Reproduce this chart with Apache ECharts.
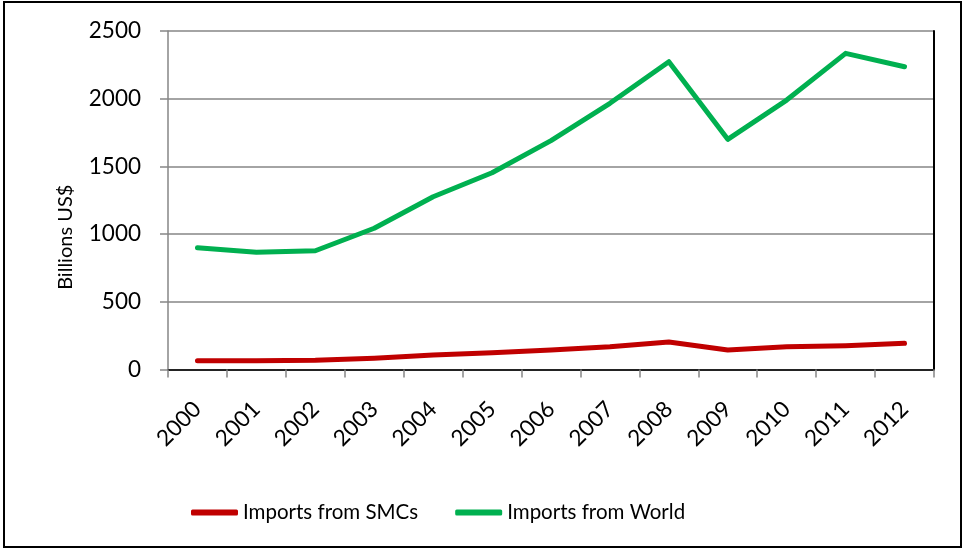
<!DOCTYPE html>
<html>
<head>
<meta charset="utf-8">
<script src="https://cdn.jsdelivr.net/npm/echarts@6/dist/echarts.min.js"></script>
<style>
html,body{margin:0;padding:0;background:#fff;}
#chart{width:963px;height:550px;}
</style>
</head>
<body>
<div id="chart"></div>
<script>
var years = ['2000','2001','2002','2003','2004','2005','2006','2007','2008','2009','2010','2011','2012'];
var importsSMCs = [65, 65, 68, 83, 107, 124, 144, 168, 203, 144, 168, 176, 193];
var importsWorld = [900, 866, 877, 1043, 1276, 1453, 1690, 1966, 2273, 1700, 1990, 2335, 2236];
var yTicks = {min: 0, max: 2500, interval: 500};
var yName = 'Billions US$';
var seriesNames = ['Imports from SMCs', 'Imports from World'];

var FONT = 'Lato';
var chart = echarts.init(document.getElementById('chart'), null, {renderer: 'canvas'});
chart.setOption({
  animation: false,
  backgroundColor: '#ffffff',
  textStyle: {fontFamily: FONT},
  grid: {left: 168, right: 29, top: 31, bottom: 180.5, containLabel: false},
  graphic: [{
    type: 'rect',
    shape: {x: 4, y: 2, width: 957, height: 545},
    style: {fill: 'none', stroke: '#000', lineWidth: 2}
  }],
  legend: {
    left: 186, top: 497,
    itemWidth: 47, itemHeight: 6, itemGap: 37,
    icon: 'roundRect',
    textStyle: {fontFamily: FONT, fontSize: 20.5, color: '#000'},
    data: seriesNames
  },
  xAxis: [{
    type: 'category',
    data: years,
    boundaryGap: true,
    axisLine: {lineStyle: {color: '#868686', width: 1.5}},
    axisTick: {show: true, alignWithLabel: false, length: 8, lineStyle: {color: '#868686', width: 1.5}},
    axisLabel: {rotate: 45, margin: 36, fontSize: 22.5, fontFamily: FONT, color: '#000', interval: 0},
    splitLine: {show: false}
  }, {
    type: 'category',
    data: years,
    position: 'top',
    axisLine: {lineStyle: {color: '#000', width: 1.5}},
    axisTick: {show: false},
    axisLabel: {show: false}
  }],
  yAxis: [{
    type: 'value',
    min: yTicks.min, max: yTicks.max, interval: yTicks.interval,
    name: yName,
    nameLocation: 'middle',
    nameGap: 92,
    nameRotate: 90,
    nameTextStyle: {fontFamily: FONT, fontSize: 20, color: '#000', padding: [0, 74, 0, 0]},
    axisLine: {show: true, lineStyle: {color: '#868686', width: 1.5}},
    axisTick: {show: true, length: 8, lineStyle: {color: '#868686', width: 1.5}},
    axisLabel: {margin: 27, fontSize: 22.5, fontFamily: FONT, color: '#000', formatter: function (v) { return String(v); }},
    splitLine: {show: true, lineStyle: {color: '#868686', width: 1.5}}
  }, {
    type: 'value',
    position: 'right',
    min: yTicks.min, max: yTicks.max, interval: yTicks.interval,
    axisLine: {show: true, lineStyle: {color: '#000', width: 2}},
    axisTick: {show: false},
    axisLabel: {show: false},
    splitLine: {show: false}
  }],
  series: [{
    name: seriesNames[0],
    type: 'line',
    data: importsSMCs,
    symbol: 'none',
    color: '#C00000',
    lineStyle: {width: 5, color: '#C00000', cap: 'round', join: 'round'}
  }, {
    name: seriesNames[1],
    type: 'line',
    data: importsWorld,
    symbol: 'none',
    color: '#00B050',
    lineStyle: {width: 5, color: '#00B050', cap: 'round', join: 'round'}
  }]
});
</script>
</body>
</html>
